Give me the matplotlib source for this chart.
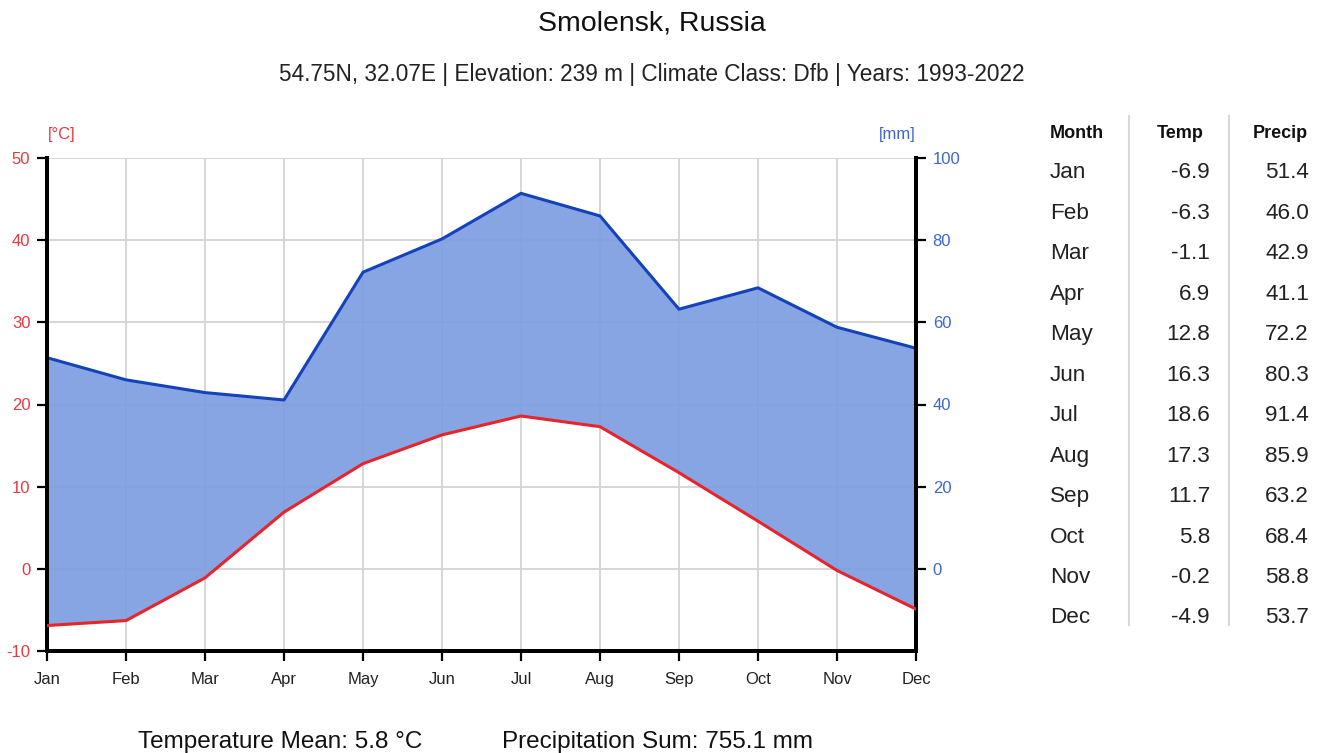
import matplotlib
matplotlib.use("Agg")
import matplotlib.pyplot as plt
import numpy as np

plt.rcParams['font.family'] = ['Liberation Sans', 'DejaVu Sans']

months = ["Jan", "Feb", "Mar", "Apr", "May", "Jun", "Jul", "Aug", "Sep", "Oct", "Nov", "Dec"]
temp = [-6.9, -6.3, -1.1, 6.9, 12.8, 16.3, 18.6, 17.3, 11.7, 5.8, -0.2, -4.9]
precip = [51.4, 46.0, 42.9, 41.1, 72.2, 80.3, 91.4, 85.9, 63.2, 68.4, 58.8, 53.7]
temp_ticks = [-10, 0, 10, 20, 30, 40, 50]
precip_ticks = [0, 20, 40, 60, 80, 100]

title = "Smolensk, Russia"
subtitle = "54.75N, 32.07E | Elevation: 239 m | Climate Class: Dfb | Years: 1993-2022"
mean_text = "Temperature Mean: 5.8 °C"
sum_text = "Precipitation Sum: 755.1 mm"

RED = "#e8242b"
BLUE = "#1442bd"
FILL = "#7d9ee1"
TRED = "#e8383e"
TBLUE = "#3d66cc"
GRID = "#d6d6d6"

W, H = 1327, 753
fig = plt.figure(figsize=(W / 100, H / 100), dpi=100)
ax = fig.add_axes([47 / W, 1 - 651 / H, (916 - 47) / W, (651 - 158) / H])
ax2 = ax.twinx()

x = np.arange(len(months))
t2 = np.array(temp) * 2

ax.set_xlim(0, 11)
ax.set_ylim(-10, 50)
ax2.set_ylim(-20, 100)

# gridlines beneath the fill (drawn on the precipitation axis)
for xv in x:
    ax2.axvline(xv, color=GRID, linewidth=1.4, zorder=0)
for yv in precip_ticks:
    ax2.axhline(yv, color=GRID, linewidth=1.4, zorder=0)

ax2.fill_between(x, t2, precip, color=FILL, linewidth=0, alpha=0.92, zorder=1)
ax2.plot(x, precip, color=BLUE, linewidth=2.2, zorder=3)
ax.plot(x, temp, color=RED, linewidth=2.2, zorder=3)
ax.set_zorder(ax2.get_zorder() + 1)
ax.patch.set_visible(False)

ax.set_xticks(x)
ax.set_xticklabels(months)
ax.set_yticks(temp_ticks)
ax.set_yticklabels([str(v) for v in temp_ticks], color=TRED)
ax2.set_yticks(precip_ticks)
ax2.set_yticklabels([str(v) for v in precip_ticks], color=TBLUE)

for a in (ax, ax2):
    a.spines['top'].set_visible(False)
    for s in ('left', 'right', 'bottom'):
        a.spines[s].set_linewidth(2.8)
        a.spines[s].set_color("black")
ax.tick_params(axis='both', length=7, width=1.6, labelsize=12, pad=5)
ax.tick_params(axis='x', labelcolor="#222222", pad=8)
ax2.tick_params(axis='y', length=7, width=1.6, labelsize=12, pad=5)

fig.text(62 / W, 1 - 134 / H, "[°C]", color=TRED, fontsize=12, ha='center', va='center')
fig.text(897 / W, 1 - 134 / H, "[mm]", color=TBLUE, fontsize=12, ha='center', va='center')

fig.text(652 / W, 1 - 24 / H, title, fontsize=20.5, ha='center', va='center', color="#111111")
fig.text(652 / W, 1 - 74 / H, subtitle, fontsize=16.3, ha='center', va='center', color="#222222")

fig.text(138 / W, 1 - 742 / H, mean_text, fontsize=17.5, ha='left', va='center', color="#111111")
fig.text(502 / W, 1 - 742 / H, sum_text, fontsize=17.5, ha='left', va='center', color="#111111")

# table
hy = 133
fig.text(1050 / W, 1 - hy / H, "Month", fontsize=13, fontweight='bold', ha='left', va='center', color="#111111")
fig.text(1204 / W, 1 - hy / H, "Temp", fontsize=13, fontweight='bold', ha='right', va='center', color="#111111")
fig.text(1308 / W, 1 - hy / H, "Precip", fontsize=13, fontweight='bold', ha='right', va='center', color="#111111")
for i, m in enumerate(months):
    yy = 1 - (173 + i * 40.45) / H
    fig.text(1050 / W, yy, m, fontsize=16.2, ha='left', va='center', color="#222222")
    fig.text(1210 / W, yy, f"{temp[i]:.1f}", fontsize=16.2, ha='right', va='center', color="#222222")
    fig.text(1309 / W, yy, f"{precip[i]:.1f}", fontsize=16.2, ha='right', va='center', color="#222222")
for xv in (1129, 1229):
    fig.add_artist(plt.Line2D([xv / W, xv / W], [1 - 116 / H, 1 - 625 / H], color="#d8d8d8", linewidth=1.5))

fig.savefig("out.png", dpi=100)
